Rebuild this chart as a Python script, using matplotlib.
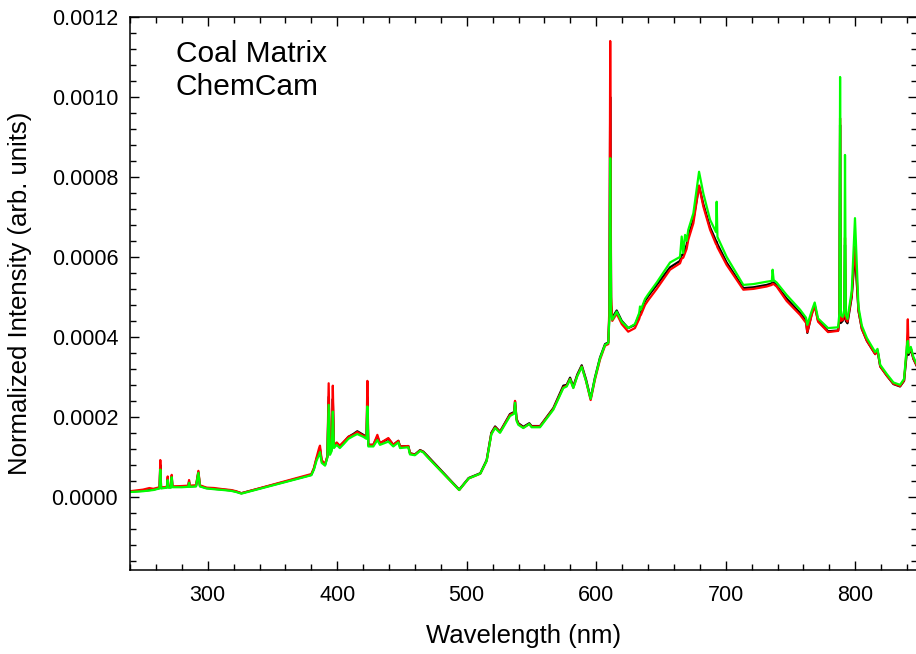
import numpy as np
import matplotlib
matplotlib.use("Agg")
import matplotlib.pyplot as plt
from matplotlib.ticker import MultipleLocator, FormatStrFormatter

plt.rcParams["font.family"] = ["Liberation Sans", "DejaVu Sans"]

# Wavelength grid (nm) shared by the three spectra
wavelength = [
    240, 245, 250, 255, 258, 262.8, 263.4, 264.0, 268.5, 269.1, 269.7, 271.6, 272.2, 272.8,
    280, 285, 285.6, 286.2, 291, 292.8, 294.0, 299, 305, 312, 318, 322, 326,
    380, 382, 384, 386, 386.7, 388, 390.6, 392.4, 393.4, 394.4, 395.8, 396.6, 397.5,
    399.6, 402, 405, 408.6, 412.4, 415.5, 420.2, 422.6, 423.3, 424.0, 427.9, 431, 433,
    439.5, 443.3, 447.2, 448.5, 454.9, 456.2, 460, 464, 466.5, 470.4,
    494.2, 501.5, 510.5, 515.4, 519, 521.9, 525.7, 533.4, 536.6, 537.3, 538.5, 539.9,
    543.7, 548.3, 550.1, 556.6, 566.9, 574.6, 577.2, 579.8, 582.3, 585.4, 588.8, 592.1,
    595.7, 599, 602.9, 606.8, 609.3, 610.2, 610.8, 611.5, 612.4, 615.8, 619.7, 624.7,
    629.9, 633.2, 633.8, 634.5, 637.7, 640.2, 646.7, 657, 664.7, 666, 667.2, 668.6,
    669.8, 671.1, 675, 679.4, 682.7, 687.9, 692.5, 693.0, 693.6, 700.7, 713.6, 721.3,
    731.6, 735.6, 736.2, 737, 739.3, 747, 757.4, 762, 763, 766.4, 768.7, 771.3, 779,
    786.8, 787.8, 788.3, 788.9, 790.3, 791.6, 792.1, 792.7, 794, 797.3, 799.8, 802.5,
    805.1, 809, 815.4, 817.2, 819.3, 824.4, 829.5, 834.6, 837.7, 839.8, 840.6, 841.2,
    842.9, 844.9, 847.8,
]

# Normalized intensities in units of 1e-4
black = [
    0.13, 0.14, 0.15, 0.17, 0.18, 0.22, 0.80, 0.22, 0.24, 0.45, 0.24, 0.24, 0.50, 0.25,
    0.25, 0.26, 0.38, 0.26, 0.27, 0.62, 0.27, 0.22, 0.20, 0.18, 0.16, 0.13, 0.09,
    0.55, 0.70, 0.95, 1.10, 1.20, 0.90, 0.80, 1.00, 2.50, 1.10, 1.20, 2.45, 1.26,
    1.34, 1.26, 1.36, 1.50, 1.57, 1.64, 1.55, 1.50, 2.50, 1.30, 1.30, 1.50, 1.34,
    1.45, 1.30, 1.40, 1.26, 1.27, 1.09, 1.06, 1.17, 1.13, 1.00,
    0.18, 0.47, 0.59, 0.92, 1.60, 1.76, 1.63, 2.07, 2.12, 2.38, 1.95, 1.84,
    1.75, 1.84, 1.77, 1.77, 2.22, 2.78, 2.80, 2.98, 2.76, 3.06, 3.29, 2.94,
    2.46, 2.98, 3.48, 3.82, 3.86, 4.60, 10.0, 4.80, 4.48, 4.66, 4.40, 4.22,
    4.30, 4.55, 4.62, 4.65, 4.90, 5.02, 5.30, 5.74, 5.90, 6.05, 6.05, 6.20,
    6.30, 6.52, 6.93, 7.78, 7.32, 6.74, 6.40, 6.38, 6.32, 5.86, 5.22, 5.24,
    5.30, 5.34, 5.36, 5.36, 5.28, 4.96, 4.60, 4.40, 4.10, 4.58, 4.80, 4.40, 4.14,
    4.16, 4.40, 9.30, 4.35, 4.40, 4.50, 6.30, 4.40, 4.34, 5.00, 6.10, 4.65,
    4.20, 3.90, 3.57, 3.66, 3.26, 3.03, 2.82, 2.76, 2.90, 3.60, 3.70, 3.55,
    3.70, 3.45, 3.25,
]

red = [
    0.14, 0.16, 0.18, 0.22, 0.20, 0.24, 0.92, 0.23, 0.25, 0.51, 0.25, 0.25, 0.55, 0.26,
    0.27, 0.28, 0.42, 0.28, 0.29, 0.65, 0.29, 0.23, 0.22, 0.19, 0.17, 0.14, 0.09,
    0.57, 0.72, 0.98, 1.22, 1.28, 0.92, 0.82, 1.02, 2.84, 1.12, 1.22, 2.78, 1.28,
    1.36, 1.28, 1.38, 1.50, 1.55, 1.62, 1.53, 1.50, 2.90, 1.30, 1.30, 1.55, 1.34,
    1.47, 1.30, 1.40, 1.26, 1.27, 1.09, 1.05, 1.16, 1.12, 0.98,
    0.17, 0.46, 0.58, 0.90, 1.58, 1.74, 1.62, 2.05, 2.10, 2.40, 1.93, 1.82,
    1.73, 1.82, 1.76, 1.76, 2.20, 2.74, 2.78, 2.95, 2.73, 3.03, 3.26, 2.90,
    2.42, 2.93, 3.43, 3.78, 3.82, 4.80, 11.4, 5.00, 4.40, 4.58, 4.32, 4.13,
    4.22, 4.45, 4.52, 4.55, 4.80, 4.92, 5.20, 5.68, 5.84, 5.96, 5.98, 6.10,
    6.20, 6.43, 6.84, 7.78, 7.26, 6.68, 6.32, 6.30, 6.24, 5.80, 5.18, 5.20,
    5.26, 5.30, 5.33, 5.32, 5.26, 4.90, 4.55, 4.35, 4.12, 4.55, 4.78, 4.38, 4.12,
    4.15, 4.45, 9.47, 4.40, 4.42, 4.60, 6.48, 4.45, 4.38, 5.05, 6.26, 4.66,
    4.20, 3.90, 3.57, 3.66, 3.26, 3.03, 2.83, 2.77, 2.91, 3.70, 4.44, 3.60,
    3.72, 3.46, 3.26,
]

green = [
    0.12, 0.13, 0.14, 0.16, 0.17, 0.21, 0.68, 0.21, 0.23, 0.42, 0.23, 0.23, 0.49, 0.24,
    0.24, 0.25, 0.35, 0.25, 0.26, 0.60, 0.26, 0.21, 0.19, 0.17, 0.15, 0.12, 0.08,
    0.54, 0.68, 0.90, 1.05, 1.12, 0.85, 0.78, 0.98, 2.30, 1.05, 1.15, 2.13, 1.22,
    1.30, 1.22, 1.32, 1.45, 1.52, 1.57, 1.50, 1.45, 2.26, 1.26, 1.26, 1.42, 1.30,
    1.38, 1.26, 1.36, 1.22, 1.24, 1.06, 1.04, 1.15, 1.11, 0.97,
    0.17, 0.46, 0.58, 0.90, 1.56, 1.72, 1.60, 2.02, 2.08, 2.35, 1.90, 1.80,
    1.72, 1.82, 1.74, 1.74, 2.18, 2.72, 2.76, 2.94, 2.72, 3.02, 3.25, 2.90,
    2.45, 2.96, 3.46, 3.80, 3.85, 4.50, 8.47, 4.60, 4.43, 4.63, 4.38, 4.22,
    4.32, 4.60, 4.76, 4.68, 4.95, 5.07, 5.36, 5.86, 6.00, 6.51, 6.10, 6.55,
    6.40, 6.68, 7.09, 8.13, 7.59, 6.93, 6.62, 7.38, 6.50, 6.00, 5.30, 5.32,
    5.38, 5.40, 5.68, 5.42, 5.36, 5.05, 4.68, 4.48, 4.30, 4.65, 4.86, 4.46, 4.22,
    4.24, 4.60, 10.5, 4.55, 4.50, 4.70, 8.55, 4.55, 4.45, 5.15, 6.97, 4.75,
    4.28, 3.97, 3.62, 3.70, 3.30, 3.07, 2.86, 2.80, 2.95, 3.75, 3.90, 3.60,
    3.75, 3.50, 3.30,
]

wl = np.array(wavelength)
scale = 1e-4

fig = plt.figure(figsize=(9.16, 6.54), dpi=100)
ax = fig.add_axes([130 / 916, 1 - 570 / 654, 787.4 / 916, 553 / 654])

ax.plot(wl, np.array(black) * scale, color="black", lw=1.6)
ax.plot(wl, np.array(red) * scale, color="#ff0000", lw=1.6)
ax.plot(wl, np.array(green) * scale, color="#00ff00", lw=1.6)

ax.set_xlim(240, 848)
ax.set_ylim(-0.000183, 0.0012)

ax.xaxis.set_major_locator(MultipleLocator(100))
ax.xaxis.set_minor_locator(MultipleLocator(20))
ax.yaxis.set_major_locator(MultipleLocator(0.0002))
ax.yaxis.set_minor_locator(MultipleLocator(0.00004))
ax.yaxis.set_major_formatter(FormatStrFormatter("%.4f"))

ax.tick_params(which="both", direction="in", top=True, right=True, width=1.0)
ax.tick_params(which="major", length=6.5, labelsize=15.5)
ax.tick_params(axis="y", which="major", pad=8.5)
ax.tick_params(axis="x", which="major", pad=10.5)
ax.tick_params(which="minor", length=4.5)
for s in ax.spines.values():
    s.set_linewidth(1.1)

ax.set_xlabel("Wavelength (nm)", fontsize=18.5)
ax.set_ylabel("Normalized Intensity (arb. units)", fontsize=18.5)
ax.xaxis.set_label_coords(0.5, -0.098)
ax.yaxis.set_label_coords(-0.125, 0.5)

ax.text(0.058, 0.919, "Coal Matrix", transform=ax.transAxes, fontsize=21.5, va="baseline")
ax.text(0.058, 0.859, "ChemCam", transform=ax.transAxes, fontsize=21.5, va="baseline")

fig.savefig("out.png", dpi=100)
